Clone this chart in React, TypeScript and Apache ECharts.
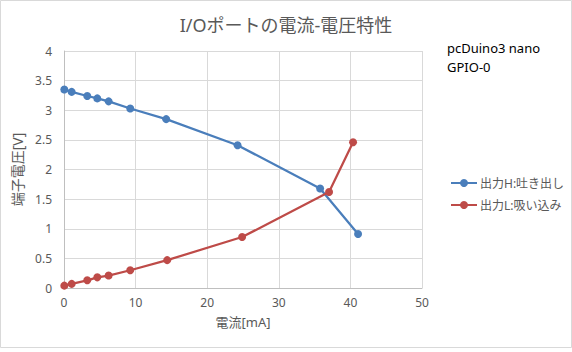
import React, { useEffect, useRef } from "react";
import * as echarts from "echarts";

const titleText = "I/Oポートの電流-電圧特性";
const noteLines = ["pcDuino3 nano", "GPIO-0"];
const xName = "電流[mA]";
const yName = "端子電圧[V]";
const seriesNames = ["出力H:吐き出し", "出力L:吸い込み"];

const highCurrent = [0.04, 1.07, 3.25, 4.65, 6.23, 9.25, 14.27, 24.24, 35.77, 41.07];
const highVoltage = [3.35, 3.31, 3.24, 3.2, 3.15, 3.03, 2.85, 2.41, 1.68, 0.91];
const lowCurrent = [0.04, 1.07, 3.25, 4.65, 6.23, 9.25, 14.41, 24.88, 37.02, 40.37];
const lowVoltage = [0.04, 0.07, 0.13, 0.18, 0.21, 0.3, 0.47, 0.86, 1.62, 2.46];

const font = "Noto Sans, Noto Sans CJK JP, sans-serif";

export default function App() {
  const ref = useRef<HTMLDivElement>(null);
  useEffect(() => {
    if (!ref.current) return;
    const chart = echarts.init(ref.current, undefined, { renderer: "svg" });
    const pair = (xs: number[], ys: number[]) => xs.map((x, i) => [x, ys[i]]);
    chart.setOption({
      animation: false,
      backgroundColor: "#ffffff",
      textStyle: { fontFamily: font },
      grid: { left: 64, right: 150, top: 51, bottom: 64 },
      graphic: [
        {
          type: "rect",
          shape: { x: 0.5, y: 0.5, width: 571, height: 347 },
          style: { fill: "none", stroke: "#d9d9d9", lineWidth: 1 },
          silent: true,
        },
        {
          type: "text",
          x: 286,
          y: 25,
          style: {
            text: titleText,
            fill: "#595959",
            fontSize: 18,
            fontFamily: font,
            align: "center",
            verticalAlign: "middle",
          },
        },
        {
          type: "text",
          x: 447,
          y: 48,
          style: {
            text: noteLines[0],
            fill: "#000000",
            fontSize: 13,
            fontFamily: font,
            align: "left",
            verticalAlign: "middle",
          },
        },
        {
          type: "text",
          x: 447,
          y: 67,
          style: {
            text: noteLines[1],
            fill: "#000000",
            fontSize: 13,
            fontFamily: font,
            align: "left",
            verticalAlign: "middle",
          },
        },
      ],
      legend: {
        orient: "vertical",
        left: 445,
        top: 172,
        itemWidth: 26,
        itemHeight: 10,
        itemGap: 10,
        textStyle: { color: "#595959", fontSize: 12, fontFamily: font, padding: [0, 0, 0, -2] },
        data: seriesNames,
      },
      xAxis: {
        type: "value",
        min: 0,
        max: 50,
        interval: 10,
        name: xName,
        nameLocation: "middle",
        nameGap: 27,
        nameTextStyle: { color: "#595959", fontSize: 13, fontFamily: font },
        axisLine: { show: true, lineStyle: { color: "#bfbfbf" } },
        axisTick: { show: false },
        axisLabel: { color: "#595959", fontSize: 12, margin: 8 },
        splitLine: { show: true, lineStyle: { color: "#d9d9d9" } },
      },
      yAxis: {
        type: "value",
        min: 0,
        max: 4,
        interval: 0.5,
        name: yName,
        nameLocation: "middle",
        nameGap: 25,
        nameTextStyle: { color: "#595959", fontSize: 14, fontFamily: font },
        axisLine: { show: true, lineStyle: { color: "#bfbfbf" } },
        axisTick: { show: false },
        axisLabel: { color: "#595959", fontSize: 12, margin: 12 },
        splitLine: { show: true, lineStyle: { color: "#d9d9d9" } },
      },
      series: [
        {
          name: seriesNames[0],
          type: "line",
          data: pair(highCurrent, highVoltage),
          symbol: "circle",
          symbolSize: 8,
          lineStyle: { color: "#4a7ebb", width: 2.25 },
          itemStyle: { color: "#4a7ebb" },
        },
        {
          name: seriesNames[1],
          type: "line",
          data: pair(lowCurrent, lowVoltage),
          symbol: "circle",
          symbolSize: 8,
          lineStyle: { color: "#be4b48", width: 2.25 },
          itemStyle: { color: "#be4b48" },
        },
      ],
    });
    return () => chart.dispose();
  }, []);
  return (
    <div
      ref={ref}
      style={{ position: "fixed", left: 0, top: 0, width: 572, height: 352 }}
    />
  );
}
